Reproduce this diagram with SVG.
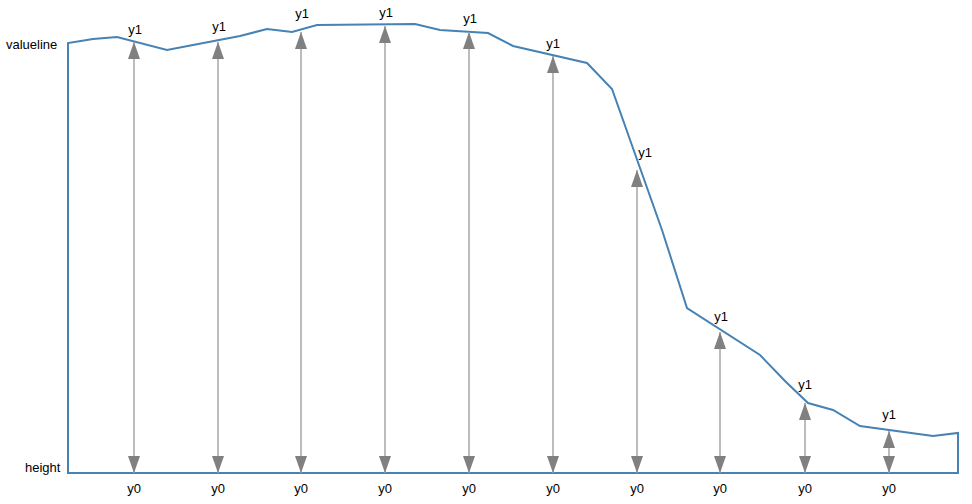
<svg xmlns="http://www.w3.org/2000/svg" width="972" height="504" viewBox="0 0 972 504">
<style>
text{font-family:"Liberation Sans",Arial,sans-serif;font-size:13px;fill:#000}
.lbl{text-anchor:middle}
.arr{stroke:#a6a6a6;stroke-width:1.5;fill:none;marker-start:url(#ah);marker-end:url(#ah)}
.vl{fill:none;stroke:#4682b4;stroke-width:2}
</style>
<defs>
<marker id="ah" viewBox="0 0 17 12" refX="17" refY="6" markerWidth="17" markerHeight="12" markerUnits="userSpaceOnUse" orient="auto-start-reverse">
<path d="M0,0 L17,6 L0,12 z" fill="#808080"/>
</marker>
</defs>
<rect width="972" height="504" fill="#fff"/>
<g id="valueline">
<path class="vl" d="M68,473 L68,43 L93,39 L117,37 L167,50 L240,36 L267,29 L292,32 L317,25 L415,24 L440,30 L488,33 L513,46 L587,63 L612,89 L662,230 L687,308 L760,355 L785,381 L808,403 L833,410 L860,426 L933,436 L958,433 L958,473 Z"/>
</g>
<g id="axis-labels">
<text x="6" y="49">valueline</text>
<text x="25" y="472">height</text>
</g>
<g id="connectors">
<line class="arr" x1="134" y1="473" x2="134" y2="42"/>
<line class="arr" x1="218" y1="473" x2="218" y2="42"/>
<line class="arr" x1="301" y1="473" x2="301" y2="32"/>
<line class="arr" x1="385" y1="473" x2="385" y2="26"/>
<line class="arr" x1="469" y1="473" x2="469" y2="32"/>
<line class="arr" x1="553" y1="473" x2="553" y2="56"/>
<line class="arr" x1="637" y1="473" x2="637" y2="170"/>
<line class="arr" x1="720" y1="473" x2="720" y2="332"/>
<line class="arr" x1="805" y1="473" x2="805" y2="403"/>
<line class="arr" x1="889" y1="473" x2="889" y2="431"/>
</g>
<g id="y1-labels">
<text class="lbl" x="135" y="34">y1</text>
<text class="lbl" x="219" y="31">y1</text>
<text class="lbl" x="302" y="18">y1</text>
<text class="lbl" x="386" y="17">y1</text>
<text class="lbl" x="470" y="23">y1</text>
<text class="lbl" x="553" y="48">y1</text>
<text class="lbl" x="645" y="157">y1</text>
<text class="lbl" x="721" y="321">y1</text>
<text class="lbl" x="805" y="389">y1</text>
<text class="lbl" x="889" y="419">y1</text>
</g>
<g id="y0-labels">
<text class="lbl" x="134" y="493">y0</text>
<text class="lbl" x="218" y="493">y0</text>
<text class="lbl" x="301" y="493">y0</text>
<text class="lbl" x="385" y="493">y0</text>
<text class="lbl" x="469" y="493">y0</text>
<text class="lbl" x="553" y="493">y0</text>
<text class="lbl" x="637" y="493">y0</text>
<text class="lbl" x="720" y="493">y0</text>
<text class="lbl" x="805" y="493">y0</text>
<text class="lbl" x="889" y="493">y0</text>
</g>
</svg>
